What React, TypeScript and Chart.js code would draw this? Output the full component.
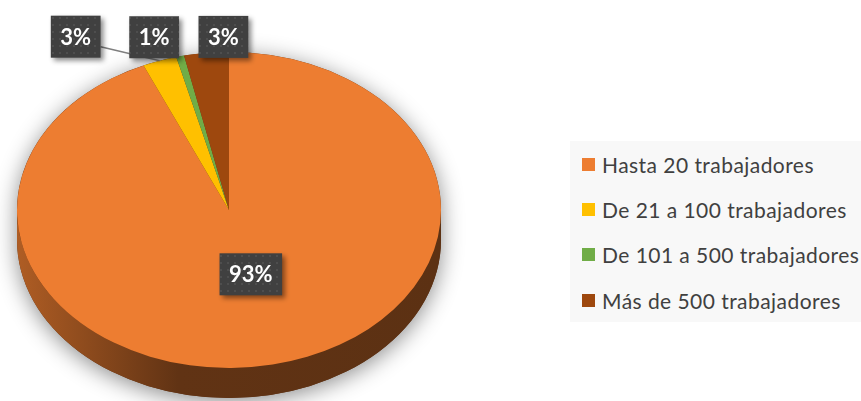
import React, { useEffect, useRef } from "react";
import { Chart, registerables } from "chart.js";

Chart.register(...registerables);

// ---- data ----
const categories = [
  "Hasta 20 trabajadores",
  "De 21 a 100 trabajadores",
  "De 101 a 500 trabajadores",
  "Más de 500 trabajadores",
];
const shares = [93.4, 2.6, 0.6, 3.4];
const sliceColors = ["#ED7D31", "#FFC000", "#70AD47", "#9E480E"];

// ---- style config ----
const PIE = { rx: 212, ry: 158, depth: 30 };
const labelRadiusFrac = [0.5, 1, 1, 1];
const labelOffsets: number[][] = [
  [0, -13],
  [-84, -24],
  [-26, -19],
  [17, -16],
];
const leaderLines = [false, true, false, false];
const LABEL_FONT = "bold 22px Lato, 'Open Sans', sans-serif";

function shade(hex: string, f: number) {
  const n = parseInt(hex.slice(1), 16);
  const r = Math.round(((n >> 16) & 255) * f);
  const g = Math.round(((n >> 8) & 255) * f);
  const b = Math.round((n & 255) * f);
  return `rgb(${r},${g},${b})`;
}

let dotPattern: CanvasPattern | null = null;
function getPattern(ctx: CanvasRenderingContext2D) {
  if (dotPattern) return dotPattern;
  const c = document.createElement("canvas");
  c.width = 7;
  c.height = 7;
  const p = c.getContext("2d")!;
  p.fillStyle = "#404040";
  p.fillRect(0, 0, 7, 7);
  p.fillStyle = "#4e4e4e";
  p.fillRect(3, 3, 2, 2);
  dotPattern = ctx.createPattern(c, "repeat");
  return dotPattern;
}

const pie3d = {
  id: "pie3d",
  beforeDatasetsDraw(chart: any) {
    const ctx: CanvasRenderingContext2D = chart.ctx;
    const meta = chart.getDatasetMeta(0);
    const first = meta.data[0];
    const { x, y, outerRadius } = first.getProps(["x", "y", "outerRadius"], true);
    const sy = PIE.ry / PIE.rx;
    const ry = outerRadius * sy;
    const d = PIE.depth;

    // silhouette with soft shadow
    ctx.save();
    ctx.beginPath();
    ctx.ellipse(x, y, outerRadius, ry, 0, Math.PI, 2 * Math.PI);
    ctx.lineTo(x + outerRadius, y + d);
    ctx.ellipse(x, y + d, outerRadius, ry, 0, 0, Math.PI);
    ctx.closePath();
    ctx.shadowColor = "rgba(0,0,0,0.45)";
    ctx.shadowBlur = 22;
    ctx.shadowOffsetY = 4;
    ctx.fillStyle = shade(sliceColors[0], 0.4);
    ctx.fill();
    ctx.restore();

    // side walls of each slice (front half only)
    meta.data.forEach((el: any, i: number) => {
      const { startAngle, endAngle } = el.getProps(["startAngle", "endAngle"], true);
      for (const k of [-2 * Math.PI, 0, 2 * Math.PI]) {
        const lo = Math.max(startAngle, k);
        const hi = Math.min(endAngle, k + Math.PI);
        if (lo >= hi) continue;
        ctx.save();
        ctx.beginPath();
        ctx.ellipse(x, y, outerRadius, ry, 0, lo, hi);
        ctx.ellipse(x, y + d, outerRadius, ry, 0, hi, lo, true);
        ctx.closePath();
        const g = ctx.createLinearGradient(x - outerRadius, 0, x + outerRadius, 0);
        const col = sliceColors[i];
        g.addColorStop(0, shade(col, 0.74));
        g.addColorStop(0.38, shade(col, 0.41));
        g.addColorStop(1, shade(col, 0.39));
        ctx.fillStyle = g;
        ctx.fill();
        ctx.restore();
      }
    });

    // elliptical top face
    ctx.save();
    ctx.translate(x, y);
    ctx.scale(1, sy);
    ctx.translate(-x, -y);
  },
  afterDatasetsDraw(chart: any) {
    const ctx: CanvasRenderingContext2D = chart.ctx;
    ctx.restore();
    const meta = chart.getDatasetMeta(0);
    const sy = PIE.ry / PIE.rx;
    const total = shares.reduce((a, b) => a + b, 0);
    ctx.save();
    ctx.font = LABEL_FONT;
    const boxes = meta.data.map((el: any, i: number) => {
      const p = el.getProps(["x", "y", "startAngle", "endAngle", "outerRadius"], true);
      const mid = (p.startAngle + p.endAngle) / 2;
      const f = labelRadiusFrac[i];
      const ax = p.x + Math.cos(mid) * p.outerRadius * f;
      const ay = p.y + Math.sin(mid) * p.outerRadius * sy * f;
      const ex = p.x + Math.cos(mid) * p.outerRadius;
      const ey = p.y + Math.sin(mid) * p.outerRadius * sy;
      const text = Math.round((shares[i] / total) * 100) + "%";
      const w = ctx.measureText(text).width + 19;
      const h = 42;
      const cx = ax + labelOffsets[i][0];
      const cy = ay + labelOffsets[i][1];
      return { text, w, h, cx, cy, ex, ey };
    });
    // leader lines
    boxes.forEach((b: any, i: number) => {
      if (!leaderLines[i]) return;
      ctx.beginPath();
      ctx.moveTo(b.cx + b.w / 2, b.cy + 10);
      ctx.lineTo(b.ex, b.ey);
      ctx.strokeStyle = "#7f7f7f";
      ctx.lineWidth = 1.5;
      ctx.stroke();
    });
    // boxes
    boxes.forEach((b: any) => {
      ctx.save();
      ctx.shadowColor = "rgba(0,0,0,0.45)";
      ctx.shadowBlur = 5;
      ctx.shadowOffsetX = 3;
      ctx.shadowOffsetY = 3;
      ctx.fillStyle = getPattern(ctx) || "#404040";
      ctx.fillRect(b.cx - b.w / 2, b.cy - b.h / 2, b.w, b.h);
      ctx.restore();
      ctx.fillStyle = "#ffffff";
      ctx.textAlign = "center";
      ctx.textBaseline = "middle";
      ctx.fillText(b.text, b.cx, b.cy + 1);
    });
    ctx.restore();
  },
};

export default function App() {
  const ref = useRef<HTMLCanvasElement>(null);
  useEffect(() => {
    const chart = new Chart(ref.current!, {
      type: "pie",
      data: {
        labels: categories,
        datasets: [
          {
            data: shares,
            backgroundColor: sliceColors,
            borderWidth: 0,
            radius: PIE.rx,
            clip: false,
          } as any,
        ],
      },
      options: {
        animation: false,
        responsive: false,
        events: [],
        layout: { padding: { left: 0, right: 403, top: 19, bottom: 0 } },
        plugins: { legend: { display: false }, tooltip: { enabled: false } },
      },
      plugins: [pie3d],
    });
    return () => chart.destroy();
  }, []);

  return (
    <div
      style={{
        position: "fixed",
        left: 0,
        top: 0,
        width: 861,
        height: 401,
        background: "#ffffff",
        overflow: "hidden",
      }}
    >
      <canvas ref={ref} width={861} height={401} style={{ position: "absolute", left: 0, top: 0 }} />
      <div
        style={{
          position: "absolute",
          left: 570,
          top: 141,
          width: 291,
          height: 181,
          background: "#f8f8f8",
          fontFamily: "Lato, 'Open Sans', sans-serif",
          fontSize: 21,
          letterSpacing: 0.45,
          color: "#404040",
        }}
      >
        {categories.map((c, i) => (
          <div
            key={c}
            style={{
              position: "absolute",
              left: 12,
              top: 23 + i * 45.4 - 13,
              height: 26,
              display: "flex",
              alignItems: "center",
              whiteSpace: "nowrap",
            }}
          >
            <span
              style={{
                display: "inline-block",
                width: 13,
                height: 13,
                background: sliceColors[i],
                marginRight: 7,
              }}
            />
            <span>{c}</span>
          </div>
        ))}
      </div>
    </div>
  );
}
